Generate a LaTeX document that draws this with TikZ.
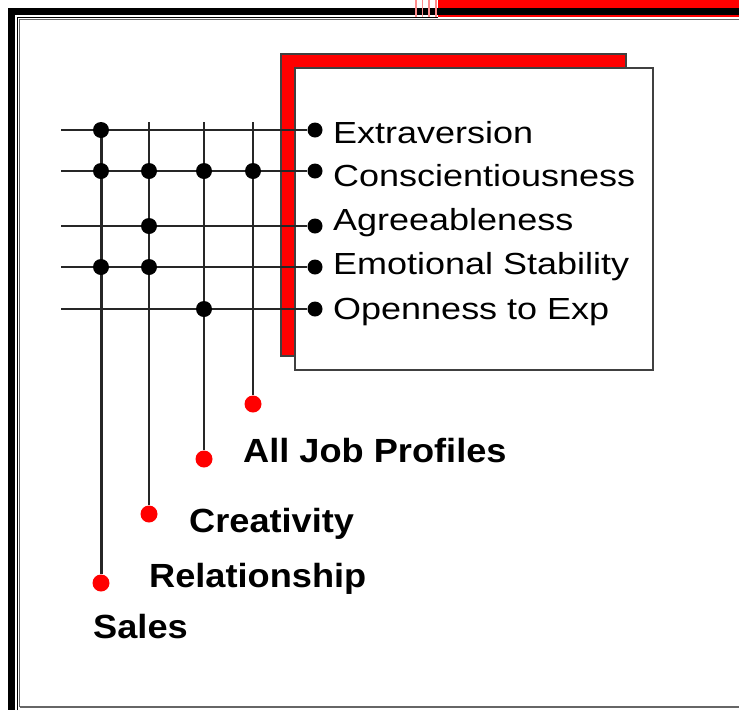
\documentclass[tikz,border=0pt]{standalone}
\usepackage{fontspec}
\setmainfont{Liberation Sans}
\newfontfamily\traitfamily[FakeStretch=1.18]{Liberation Sans}
\newfontfamily\jobfamily[FakeStretch=1.08]{Liberation Sans}
\newcommand\traitfont{\traitfamily\fontsize{30.5pt}{36pt}\selectfont}
\newcommand\jobfont{\jobfamily\bfseries\fontsize{33.5pt}{40pt}\selectfont}

\begin{document}
\begin{tikzpicture}[x=1pt, y=-1pt,
  wire/.style={line width=2pt, black!85},
  mainwire/.style={line width=3pt, black!85},
  jdot/.style={circle, fill=black, inner sep=0pt, minimum size=16pt},
  tdot/.style={circle, fill=black, inner sep=0pt, minimum size=15pt},
  rdot/.style={circle, fill=red, inner sep=0pt, minimum size=17pt},
  trait/.style={anchor=base west, inner sep=0pt, font=\traitfont},
  job/.style={anchor=base west, inner sep=0pt, font=\jobfont},
  panel/.style={line width=1.3pt, draw=black!75}]

\useasboundingbox (0,0) rectangle (739,710);
\fill[white] (0,0) rectangle (739,710);

% slide frame
\fill[red] (438,0) rectangle (739,8);
\fill[black] (8,8) rectangle (739,15);
\fill[black] (8,8) rectangle (15,710);
\foreach \x in {416,422.5,429,436}
  \draw[red!45, line width=1.2pt] (\x,0) -- (\x,17);
\draw[black, line width=1.4pt] (17.5,710) -- (17.5,17.5) -- (438,17.5);
\draw[red, line width=1.6pt] (438,16) -- (739,16);
\draw[black!60, line width=1.1pt] (19.5,707) -- (19.5,19.5) -- (739,19.5);
\draw[black!60, line width=1.1pt] (19.5,707) -- (739,707);

% panel with red shadow
\filldraw[panel, fill=red] (281,54) rectangle (626,356);
\filldraw[panel, fill=white] (295,68) rectangle (653,370);

% trait terminals
\node[tdot] (t1) at (315,130) {};
\node[tdot] (t2) at (315,171) {};
\node[tdot] (t3) at (315,226) {};
\node[tdot] (t4) at (315,267) {};
\node[tdot] (t5) at (315,309) {};

\node[trait] (l1) at (333,143) {Extraversion};
\node[trait] (l2) at (333,186) {Conscientiousness};
\node[trait] (l3) at (333,230) {Agreeableness};
\node[trait] (l4) at (333,274) {Emotional Stability};
\node[trait] (l5) at (333,319) {Openness to Exp};

% row wires
\coordinate (w1) at (61,130);
\coordinate (w2) at (61,171);
\coordinate (w3) at (61,226);
\coordinate (w4) at (61,267);
\coordinate (w5) at (61,309);
\foreach \i in {1,...,5}
  \draw[wire] (w\i) -- (t\i);

% job profile ends
\node[rdot] (jall) at (253,404) {};
\node[rdot] (jcre) at (204,459) {};
\node[rdot] (jrel) at (149,514) {};
\node[rdot] (jsal) at (101,583) {};

% column wires
\coordinate (ctall) at (253,122);
\coordinate (ctcre) at (204,122);
\coordinate (ctrel) at (149,122);
\coordinate (ctsal) at (101,130);
\draw[wire] (ctall) -- (jall);
\draw[wire] (ctcre) -- (jcre);
\draw[wire] (ctrel) -- (jrel);
\draw[mainwire] (ctsal) -- (jsal);

% junctions
\node[jdot] (s1) at (101,130) {};
\node[jdot] (s2) at (101,171) {};
\node[jdot] (s4) at (101,267) {};
\node[jdot] (r2) at (149,171) {};
\node[jdot] (r3) at (149,226) {};
\node[jdot] (r4) at (149,267) {};
\node[jdot] (c2) at (204,171) {};
\node[jdot] (c5) at (204,309) {};
\node[jdot] (a2) at (253,171) {};

% job profile labels
\node[job] (lall) at (243,462) {All Job Profiles};
\node[job] (lcre) at (189,532) {Creativity};
\node[job] (lrel) at (149,587) {Relationship};
\node[job] (lsal) at (93,638) {Sales};

\end{tikzpicture}
\end{document}
